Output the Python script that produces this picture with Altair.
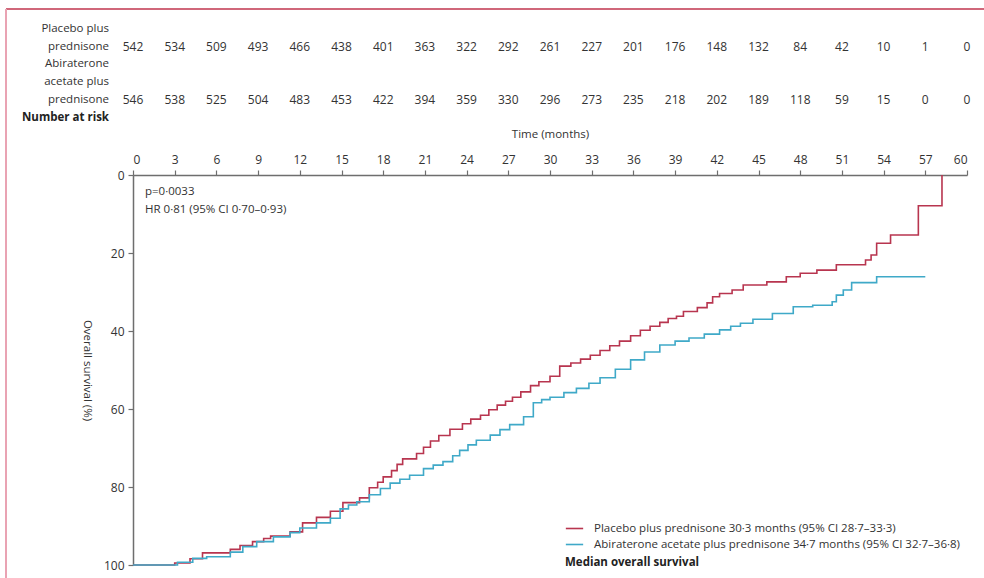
import altair as alt
import pandas as pd

# Kaplan-Meier step points (months, % alive)
placebo_t = [0, 3.0, 4.1, 5.0, 7.0, 7.7, 8.6, 9.4, 9.9, 11.3, 12.2, 13.2, 14.2, 15.1, 16.3,
             17.0, 17.6, 18.0, 18.6, 19.0, 19.4, 20.4, 20.9, 21.4, 22.0, 22.8, 23.7, 24.3,
             25.0, 25.6, 26.2, 26.8, 27.3, 27.9, 28.6, 29.2, 30.0, 30.7, 31.5, 32.2, 32.9,
             33.6, 34.3, 35.0, 35.8, 36.5, 37.2, 37.9, 38.5, 39.1, 39.6, 40.6, 41.3, 41.7,
             42.2, 43.1, 43.9, 45.6, 47.0, 48.0, 49.2, 50.6, 52.7, 53.1, 53.5, 54.5, 56.5, 58.2]
placebo_s = [100, 99.5, 98.4, 96.9, 96.0, 95.0, 94.0, 93.2, 92.6, 91.5, 89.2, 87.8, 86.2, 84.0, 82.8,
             80.2, 78.8, 77.4, 75.8, 74.2, 72.8, 71.4, 69.8, 68.2, 66.8, 65.2, 63.8, 62.6,
             61.6, 60.2, 59.0, 58.0, 57.0, 55.6, 54.0, 53.0, 51.6, 49.0, 48.2, 47.2, 46.2,
             45.0, 43.8, 42.6, 41.2, 39.8, 38.8, 37.8, 36.8, 36.2, 35.0, 34.0, 32.8, 31.2,
             30.4, 29.5, 28.2, 27.4, 26.1, 25.2, 24.4, 23.0, 21.8, 20.5, 17.5, 15.4, 7.9, 0]

abi_t = [0, 3.2, 4.3, 5.3, 7.0, 7.9, 8.9, 10.1, 11.3, 12.0, 13.2, 14.2, 14.9, 15.5, 16.1,
         17.0, 17.8, 18.5, 19.2, 19.9, 20.9, 21.6, 22.3, 23.0, 23.5, 24.1, 24.7, 25.7, 26.4,
         27.1, 28.1, 28.8, 29.4, 30.0, 31.0, 31.9, 32.8, 33.6, 34.7, 35.8, 36.8, 37.9, 39.0,
         40.0, 41.1, 42.2, 43.0, 43.7, 44.6, 46.0, 47.5, 48.9, 50.3, 50.6, 51.1, 51.7, 53.5, 57.0]
abi_s = [100, 99.3, 98.3, 97.9, 96.7, 95.3, 94.0, 92.8, 91.7, 90.5, 89.2, 88.0, 85.6, 84.6, 83.8,
         82.0, 80.4, 79.0, 78.0, 77.0, 75.3, 74.4, 73.5, 72.0, 70.6, 69.2, 68.0, 66.7, 65.3,
         64.0, 62.0, 58.4, 57.6, 57.0, 55.8, 54.7, 53.4, 52.0, 49.8, 47.4, 45.4, 43.6, 42.6,
         41.8, 40.8, 39.7, 38.8, 38.0, 37.0, 35.5, 33.8, 33.4, 32.5, 30.8, 29.5, 27.6, 26.1, 26.1]

# Number at risk every 3 months
risk_times = list(range(0, 61, 3))
risk_abi = [546, 538, 525, 504, 483, 453, 422, 394, 359, 330, 296, 273, 235, 218, 202, 189, 118, 59, 15, 0, 0]
risk_placebo = [542, 534, 509, 493, 466, 438, 401, 363, 322, 292, 261, 227, 201, 176, 148, 132, 84, 42, 10, 1, 0]

label_placebo = "Placebo plus prednisone 30·3 months (95% CI 28·7–33·3)"
label_abi = "Abiraterone acetate plus prednisone 34·7 months (95% CI 32·7–36·8)"
series_labels = [label_placebo, label_abi]
series_colors = ["#b8354f", "#3fa9c8"]

FONT = "Open Sans"
TXT = "#333333"

curves = pd.concat([
    pd.DataFrame({"time": placebo_t, "surv": placebo_s, "arm": label_placebo}),
    pd.DataFrame({"time": abi_t, "surv": abi_s, "arm": label_abi}),
])

x_scale = alt.Scale(domain=[0, 60], nice=False, zero=False)
y_scale = alt.Scale(domain=[0, 100], reverse=True, nice=False)

lines = alt.Chart(curves).mark_line(interpolate="step-after", strokeWidth=1.6).encode(
    x=alt.X("time:Q", scale=x_scale,
            axis=alt.Axis(orient="top", values=risk_times, title="Time (months)",
                          labelFontSize=12, titleFontSize=11.5, titleFontWeight="normal",
                          labelPadding=4, titlePadding=14, tickSize=5)),
    y=alt.Y("surv:Q", scale=y_scale,
            axis=alt.Axis(orient="left", values=[0, 20, 40, 60, 80, 100], title="Overall survival (%)",
                          labelFontSize=12, titleFontSize=11.5, titleFontWeight="normal",
                          titleAngle=90, labelPadding=4, titlePadding=22, tickSize=5)),
    color=alt.Color("arm:N", scale=alt.Scale(domain=series_labels, range=series_colors),
                    sort=series_labels,
                    legend=alt.Legend(orient="none", legendX=432, legendY=344,
                                      title="Median overall survival", titleOrient="bottom",
                                      titleAnchor="start", titleFontSize=11.5, titleFontWeight="bold",
                                      titleColor="#222", titlePadding=7,
                                      labelFontSize=11.5, labelColor=TXT, labelFont=FONT,
                                      titleFont=FONT, symbolType="stroke", symbolSize=300,
                                      symbolStrokeWidth=1.6, rowPadding=1, labelOffset=10,
                                      labelLimit=0)),
)

risk_df = pd.DataFrame({"time": risk_times, "abi": risk_abi, "placebo": risk_placebo})

risk_placebo_txt = alt.Chart(risk_df).mark_text(fontSize=12, font=FONT, color=TXT).encode(
    x=alt.X("time:Q", scale=x_scale), y=alt.value(-128), text="placebo:Q")
risk_abi_txt = alt.Chart(risk_df).mark_text(fontSize=12, font=FONT, color=TXT).encode(
    x=alt.X("time:Q", scale=x_scale), y=alt.value(-75), text="abi:Q")

row_labels = pd.DataFrame({
    "label": [["Placebo plus", "prednisone"], ["Abiraterone", "acetate plus", "prednisone"]],
    "ypos": [-146, -111],
})
row_txt = alt.Chart(row_labels).mark_text(fontSize=11.5, font=FONT, color=TXT, align="right",
                                          baseline="middle", lineHeight=18).encode(
    x=alt.value(-24), y=alt.Y("ypos:Q", scale=None), text="label")

header = alt.Chart(pd.DataFrame({"t": ["Number at risk"]})).mark_text(
    fontSize=11.5, font=FONT, color="#222", fontWeight="bold", align="right", baseline="middle"
).encode(x=alt.value(-24), y=alt.value(-57), text="t:N")

stats = pd.DataFrame({"t": ["p=0·0033", "HR 0·81 (95% CI 0·70–0·93)"], "ypos": [17, 35]})
stats_txt = alt.Chart(stats).mark_text(fontSize=11.5, font=FONT, color=TXT, align="left",
                                       baseline="middle").encode(
    x=alt.value(12), y=alt.Y("ypos:Q", scale=None), text="t:N")

# Outer frame: dark top rule and a light left rule
frame_top = alt.Chart(pd.DataFrame({"v": [0]})).mark_rule(color="#c0344e", strokeWidth=1.5).encode(
    x=alt.value(-127), x2=alt.value(851), y=alt.value(-166))
frame_left = alt.Chart(pd.DataFrame({"v": [0]})).mark_rule(color="#e9a3b3", strokeWidth=2).encode(
    x=alt.value(-127), y=alt.value(-166), y2=alt.value(403))

chart = alt.layer(
    frame_top, frame_left, lines, risk_placebo_txt, risk_abi_txt, row_txt, header, stats_txt
).properties(
    width=834, height=390,
    padding={"left": 133, "top": 175, "right": 17, "bottom": 13},
    autosize=alt.AutoSizeParams(type="none"),
    background="white",
).configure_view(stroke=None).configure_axis(
    labelFont=FONT, titleFont=FONT, labelColor=TXT, titleColor=TXT,
    domainColor="#6e6e6e", tickColor="#6e6e6e", domainWidth=1.5, tickWidth=1.2, grid=False,
)

chart.save("out.html", embed_options={"renderer": "svg", "actions": False})
